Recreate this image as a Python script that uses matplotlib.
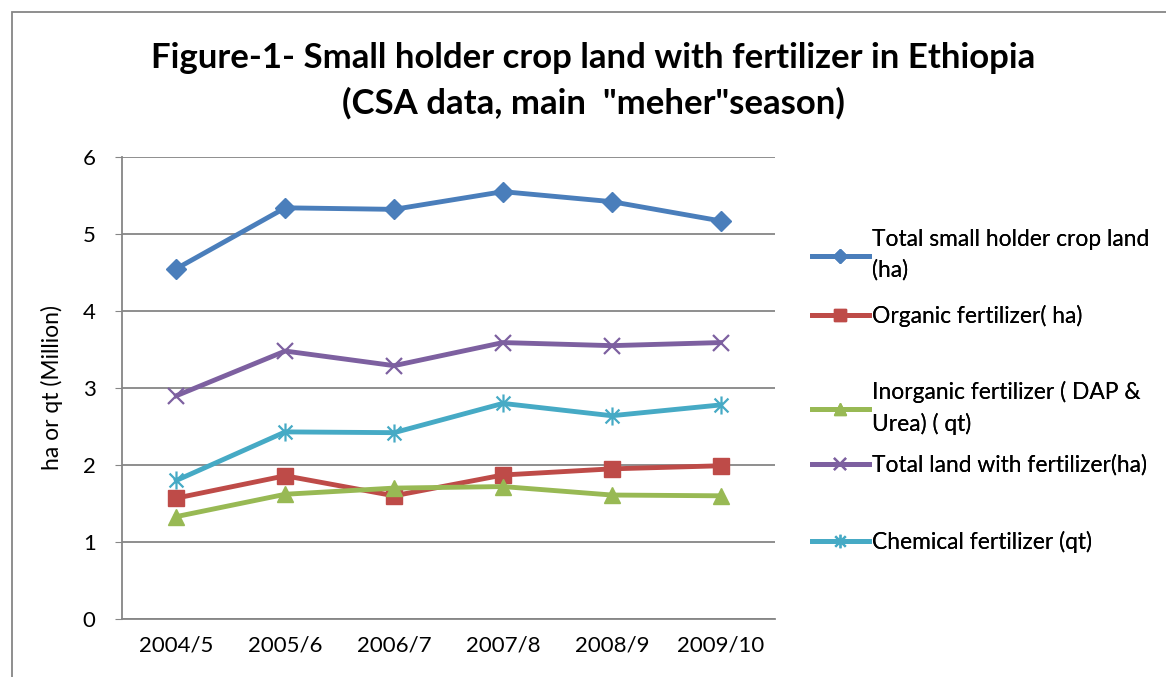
import matplotlib
matplotlib.use('Agg')
import numpy as np
from matplotlib import pyplot as plt
from matplotlib.path import Path
from matplotlib.patches import Rectangle

plt.rcParams['font.family'] = ['Lato', 'DejaVu Sans']

# data
seasons = ['2004/5', '2005/6', '2006/7', '2007/8', '2008/9', '2009/10']
total_crop_land = [4.55, 5.34, 5.32, 5.55, 5.42, 5.17]
organic = [1.57, 1.86, 1.60, 1.87, 1.95, 1.99]
inorganic = [1.33, 1.62, 1.70, 1.72, 1.61, 1.60]
total_fert_land = [2.90, 3.48, 3.29, 3.59, 3.55, 3.59]
chemical = [1.80, 2.43, 2.42, 2.80, 2.64, 2.78]

labels = ['Total small holder crop land\n(ha)', 'Organic fertilizer( ha)',
          'Inorganic fertilizer ( DAP &\nUrea) ( qt)', 'Total land with fertilizer(ha)',
          'Chemical fertilizer (qt)']

# asterisk marker: x plus vertical bar
star = Path([(-1, -1), (1, 1), (-1, 1), (1, -1), (0, -1.3), (0, 1.3)],
            [Path.MOVETO, Path.LINETO, Path.MOVETO, Path.LINETO, Path.MOVETO, Path.LINETO])

fig = plt.figure(figsize=(11.66, 6.77), dpi=100)
ax = fig.add_axes([122 / 1166, 1 - 619 / 677, (775 - 122) / 1166, (619 - 157) / 677])

x = np.arange(len(seasons))
lw = 3.5
l1, = ax.plot(x, total_crop_land, color='#4A7EBB', lw=lw, marker='D', ms=10, zorder=5)
l2, = ax.plot(x, organic, color='#BE4B48', lw=lw, marker='s', ms=11, zorder=4)
l3, = ax.plot(x, inorganic, color='#98B954', lw=lw, marker='^', ms=12, zorder=4)
l4, = ax.plot(x, total_fert_land, color='#7D60A0', lw=lw, marker='x', ms=12, mew=1.6, zorder=4)
l5, = ax.plot(x, chemical, color='#46AAC5', lw=lw, marker=star, ms=13, mew=1.6, zorder=4)

ax.set_xlim(-0.5, 5.5)
ax.set_ylim(0, 6)
ax.set_yticks(range(7))
ax.set_xticks(x)
ax.set_xticklabels(seasons, fontsize=16)
ax.tick_params(axis='y', labelsize=16, length=5, color='#868686', pad=14)
ax.tick_params(axis='x', length=0, pad=12)
ax.grid(axis='y', color='#868686', lw=1.3)
ax.set_axisbelow(True)
for s in ['top', 'right']:
    ax.spines[s].set_visible(False)
ax.spines['left'].set_color('#868686')
ax.spines['bottom'].set_color('#868686')
ax.spines['left'].set_linewidth(1.3)
ax.spines['bottom'].set_linewidth(1.3)
ax.set_ylabel('ha or qt (Million)', fontsize=16.5, labelpad=14)

fig.text(593 / 1166, 1 - 58 / 677, 'Figure-1- Small holder crop land with fertilizer in Ethiopia',
         ha='center', va='center', fontsize=25, fontweight='bold')
fig.text(593 / 1166, 1 - 103 / 677, '(CSA data, main  "meher"season)',
         ha='center', va='center', fontsize=25, fontweight='bold')

# legend entries, placed one by one like the Excel legend
handles = [l1, l2, l3, l4, l5]
centers = [255, 316, 408, 465, 542]
for h, lab, cy in zip(handles, labels, centers):
    leg = fig.legend([h], [lab], loc='center left', bbox_to_anchor=(812 / 1166, 1 - cy / 677),
                     frameon=False, fontsize=16.4, handlelength=2.5, handletextpad=0.15,
                     borderaxespad=0, borderpad=0, markerscale=0.75)
    for t in leg.get_texts():
        t.set_linespacing(1.5)
    fig.add_artist(leg)

fig.patches.append(Rectangle((12 / 1166, -0.1), 1.2, 1 - 12 / 677 + 0.1, transform=fig.transFigure,
                             fill=False, edgecolor='#868686', lw=1.3))

fig.savefig('out.png', dpi=100)
